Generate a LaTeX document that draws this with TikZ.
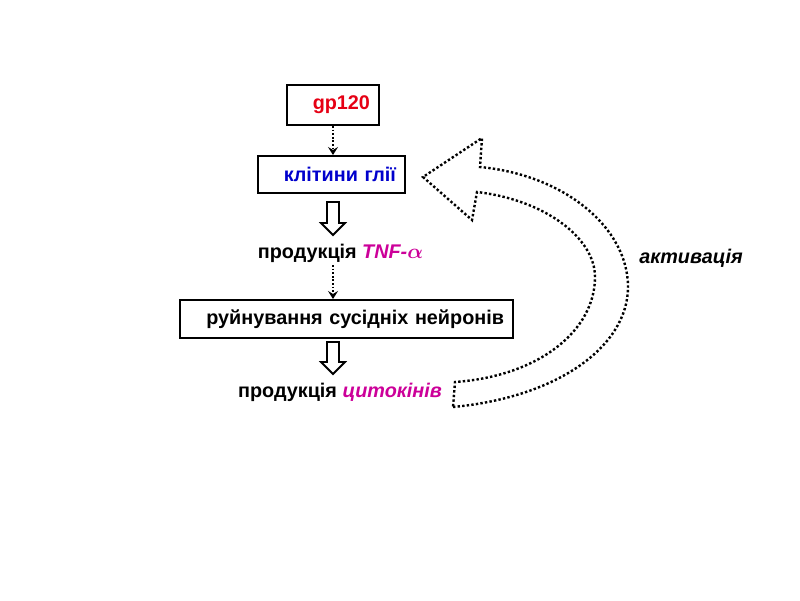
\documentclass[tikz,border=0pt]{standalone}
\usepackage{amsmath}
\usepackage{fontspec}
\setmainfont{Liberation Sans}
\usetikzlibrary{arrows.meta,calc}
\definecolor{gpred}{RGB}{230,0,20}
\definecolor{gliablue}{RGB}{0,0,204}
\definecolor{cytmag}{RGB}{204,0,153}
\begin{document}
\begin{tikzpicture}[x=1pt,y=-1pt,
  every node/.style={font=\fontsize{19.8}{23}\selectfont\bfseries},
  boxnode/.style={draw,line width=2pt,inner xsep=9pt,inner ysep=0pt,align=right},
  plain/.style={inner sep=0pt},
  dotarrow/.style={line width=1.8pt,dash pattern=on 1.8pt off 1.8pt,-{Stealth[length=8pt,width=10pt,inset=3pt]}},
  hollow/.style={line width=1.8pt,line join=miter},
  bigdots/.style={line width=2.4pt,dash pattern=on 2.4pt off 2.2pt,line join=miter}]
\path[use as bounding box] (0,0) rectangle (800,600);

\node[boxnode,minimum width=92pt,minimum height=40pt,text width=74pt] (gp) at (333,105) {\textcolor{gpred}{gp120}};
\node[boxnode,minimum width=147pt,minimum height=37pt,text width=129pt] (glia) at (331.5,174.5) {\textcolor{gliablue}{клітини глії}};
\node[plain] (tnf) at (340.5,253) {продукція \textcolor{cytmag}{\itshape TNF-$\boldsymbol{\alpha}$}};
\node[boxnode,minimum width=333pt,minimum height=38pt,text width=315pt] (ruin) at (346.5,319) {руйнування сусідніх нейронів};
\node[plain] (cyt) at (340,392) {продукція \textcolor{cytmag}{\itshape цитокінів}};
\node[plain,font=\fontsize{19.8}{23}\selectfont\bfseries\itshape] (act) at (691,258) {активація};

% dotted connectors
\draw[dotarrow] (gp.south) -- (gp.south |- glia.north);
\coordinate (d2) at (333,265);
\draw[dotarrow] (d2) -- (d2 |- ruin.north);

% hollow arrows
\coordinate (h1) at (333,202);
\draw[hollow] (h1) ++(-6,0) -- ++(12,0) -- ++(0,21) -- ++(6,0) -- ++(-12,12) -- ++(-12,-12) -- ++(6,0) -- cycle;
\coordinate (h2) at (333,342);
\draw[hollow] (h2) ++(-6,0) -- ++(12,0) -- ++(0,20) -- ++(6,0) -- ++(-12,12) -- ++(-12,-12) -- ++(6,0) -- cycle;

% big curved feedback arrow
\draw[bigdots] (453,407) .. controls (560,397) and (628,345) .. (628,287)
  .. controls (628,228) and (565,175) .. (480,167)
  -- (482,138) -- (423,177) -- (472,220) -- (477,192)
  .. controls (545,200) and (595,238) .. (595,277)
  .. controls (595,330) and (540,376) .. (455,382)
  -- cycle;
\end{tikzpicture}
\end{document}
